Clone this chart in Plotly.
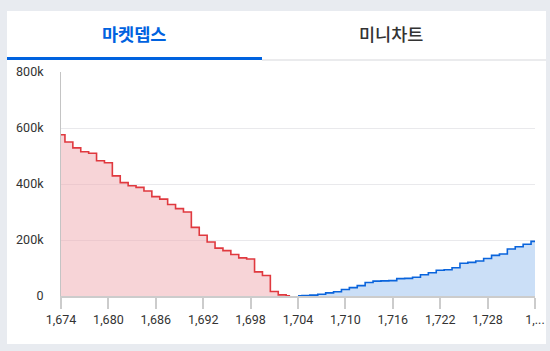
import plotly.graph_objects as go

# ---- data ----
bid_prices = list(range(1674, 1704))
bid_depth = [576000, 550000, 529000, 515000, 510000, 483000, 476000, 429000, 405000, 394000,
             388000, 375000, 355000, 346000, 327000, 312000, 300000, 245000, 217000, 193000,
             171000, 162000, 148000, 136000, 132000, 86000, 73000, 16000, 4000, 1000]
ask_prices = list(range(1704, 1735))
ask_depth = [1000, 2000, 3000, 6000, 11000, 15000, 23000, 30000, 37000, 48000,
             53000, 54000, 55000, 62000, 63000, 67000, 76000, 83000, 92000, 94000,
             101000, 117000, 120000, 125000, 134000, 145000, 150000, 168000, 176000, 185000, 195000]
x_tick_vals = [1674, 1680, 1686, 1692, 1698, 1704, 1710, 1716, 1722, 1728, 1734]
x_tick_text = ["1,674", "1,680", "1,686", "1,692", "1,698", "1,704", "1,710", "1,716", "1,722", "1,728", "1,..."]
y_tick_vals = [0, 200000, 400000, 600000, 800000]
y_tick_text = ["0", "200k", "400k", "600k", "800k"]
tabs = ["마켓뎁스", "미니차트"]

W, H = 550, 351
L, R, T, B = 61, 15, 72, 55
PW, PH = W - L - R, H - T - B


def px_x(p):
    return (p - L) / PW


def px_y(p):
    return (H - B - p) / PH


FONT = "Noto Sans CJK KR"
NUMFONT = "Roboto"

fig = go.Figure()
fig.add_trace(go.Scatter(
    x=bid_prices, y=bid_depth, mode="lines", line_shape="hvh",
    line=dict(color="#e0393f", width=1.6), fill="tozeroy", fillcolor="rgba(240,170,176,0.5)",
    hoverinfo="skip", showlegend=False))
fig.add_trace(go.Scatter(
    x=ask_prices, y=ask_depth, mode="lines", line_shape="hvh",
    line=dict(color="#0a64dc", width=1.6), fill="tozeroy", fillcolor="rgba(156,194,240,0.52)",
    hoverinfo="skip", showlegend=False))

shapes = [
    # white panel
    dict(type="rect", xref="paper", yref="paper", x0=px_x(7), x1=px_x(546), y0=px_y(344), y1=px_y(11),
         fillcolor="white", line=dict(width=0), layer="below"),
    # tab underline (active)
    dict(type="rect", xref="paper", yref="paper", x0=px_x(7), x1=px_x(262), y0=px_y(60), y1=px_y(57),
         fillcolor="#0062df", line=dict(width=0), layer="above"),
    # tab baseline
    dict(type="line", xref="paper", yref="paper", x0=px_x(262), x1=px_x(546), y0=px_y(60), y1=px_y(60),
         line=dict(color="#d6d7db", width=1), layer="above"),
]

annotations = [
    dict(text="<b>%s</b>" % tabs[0], xref="paper", yref="paper", x=px_x(134), y=px_y(33),
         showarrow=False, font=dict(family=FONT, size=17.5, color="#0062df"), xanchor="center", yanchor="middle"),
    dict(text=tabs[1], xref="paper", yref="paper", x=px_x(391), y=px_y(33),
         showarrow=False, font=dict(family=FONT, size=17.5, color="#333333", weight=500),
         xanchor="center", yanchor="middle"),
]

fig.update_layout(
    width=W, height=H, margin=dict(l=L, r=R, t=T, b=B, pad=0, autoexpand=False),
    paper_bgcolor="#e8ebf0", plot_bgcolor="white",
    shapes=shapes, annotations=annotations, hovermode=False,
    font=dict(family=NUMFONT, size=12, color="#333333"),
)
fig.update_xaxes(
    range=[1674, 1734], tickvals=x_tick_vals, ticktext=x_tick_text, automargin=False,
    showgrid=False, zeroline=False, showline=True, linecolor="#cccccc", linewidth=2,
    ticks="outside", ticklen=11, tickwidth=2, tickcolor="#cccccc",
    tickfont=dict(family=NUMFONT, size=12.5, color="#333333"), ticklabelstandoff=0,
)
fig.update_yaxes(
    range=[0, 800000], tickvals=y_tick_vals, ticktext=y_tick_text, automargin=False,
    showgrid=True, gridcolor="#e9e9ec", gridwidth=1, zeroline=False,
    showline=True, linecolor="#c4c4c4", linewidth=1, ticks="",
    tickfont=dict(family=NUMFONT, size=12.5, color="#333333"), ticklabelstandoff=14,
)

fig.write_html("out.html")
